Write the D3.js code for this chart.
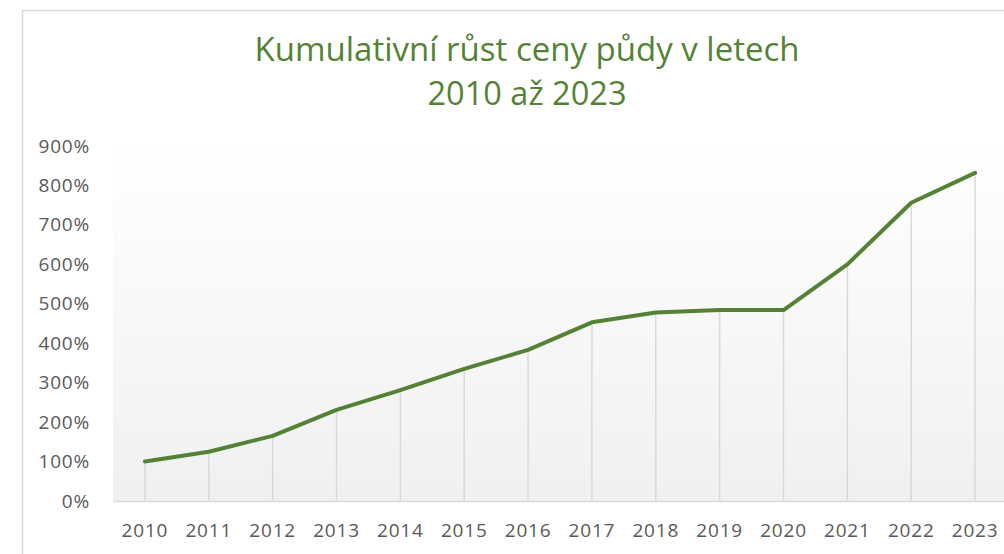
<!DOCTYPE html>
<html>
<head>
<meta charset="utf-8">
<script src="https://cdn.jsdelivr.net/npm/d3@7"></script>
<style>
  html, body { margin: 0; padding: 0; background: #fff; }
  svg { display: block; }
</style>
</head>
<body>
<svg id="chart" width="1004" height="554"></svg>
<script>
const years = ["2010", "2011", "2012", "2013", "2014", "2015", "2016",
  "2017", "2018", "2019", "2020", "2021", "2022", "2023"];
const growth = [100, 125, 165, 231, 281, 335, 383, 453, 478, 484, 484, 600, 756, 832];
const yTicks = [0, 100, 200, 300, 400, 500, 600, 700, 800, 900];
const titleLines = ["Kumulativní růst ceny půdy v letech", "2010 až 2023"];

const svg = d3.select("#chart");
const green = "#548235";
const grid = "#d9d9d9";
const margin = { left: 113, right: -3, top: 146, bottom: 53 };
const width = 1004, height = 554;

// outer chart frame, cut off on right and bottom like in the source
svg.append("rect")
  .attr("x", 22.5).attr("y", 10.5)
  .attr("width", 1000).attr("height", 600)
  .attr("fill", "none").attr("stroke", grid).attr("stroke-width", 1.5);

const x = d3.scaleBand()
  .domain(years)
  .range([margin.left, width - margin.right]);

const y = d3.scaleLinear()
  .domain([0, 900])
  .range([height - margin.bottom, margin.top]);

const defs = svg.append("defs");
const grad = defs.append("linearGradient")
  .attr("id", "bg").attr("x1", 0).attr("y1", 0).attr("x2", 0).attr("y2", 1);
grad.append("stop").attr("offset", "0%").attr("stop-color", "#ffffff");
grad.append("stop").attr("offset", "100%").attr("stop-color", "#f0f0f0");

svg.append("rect")
  .attr("x", margin.left).attr("y", y(900))
  .attr("width", width - margin.right - margin.left)
  .attr("height", y(0) - y(900))
  .attr("fill", "url(#bg)");

const cx = d => x(d) + x.bandwidth() / 2;

// drop lines
svg.append("g")
  .selectAll("line")
  .data(years)
  .join("line")
  .attr("x1", cx).attr("x2", cx)
  .attr("y1", (d, i) => y(growth[i]))
  .attr("y2", y(0))
  .attr("stroke", grid).attr("stroke-width", 1.5);

const labelStyle = g => g
  .attr("fill", "#595959")
  .style("font-family", "'Open Sans', sans-serif")
  .style("font-size", "19px")
  .style("letter-spacing", "0.8px");

// x axis
const xAxis = g => g
  .attr("transform", `translate(0, ${ y(0) })`)
  .call(d3.axisBottom(x).tickSize(0).tickPadding(23))
  .call(g => g.select(".domain").attr("stroke", grid).attr("stroke-width", 1.5))
  .call(g => g.selectAll("text").call(labelStyle));

// y axis
const yAxis = g => g
  .attr("transform", `translate(${ margin.left - 20 }, 0)`)
  .call(d3.axisLeft(y).tickValues(yTicks).tickSize(0).tickFormat(d => d + "%"))
  .call(g => g.select(".domain").remove())
  .call(g => g.selectAll("text").call(labelStyle));

svg.append("g").call(xAxis);
svg.append("g").call(yAxis);

const line = d3.line()
  .x((d, i) => cx(years[i]))
  .y(d => y(d));

svg.append("path")
  .datum(growth)
  .attr("d", line)
  .attr("fill", "none")
  .attr("stroke", green)
  .attr("stroke-width", 4)
  .attr("stroke-linejoin", "round")
  .attr("stroke-linecap", "round");

// title, slightly condensed to mimic the narrower original face
const titleWidths = [545, 199];
svg.append("g")
  .selectAll("text")
  .data(titleLines)
  .join("text")
  .attr("x", 527)
  .attr("y", (d, i) => 61 + i * 44)
  .attr("text-anchor", "middle")
  .attr("fill", green)
  .attr("textLength", (d, i) => titleWidths[i])
  .attr("lengthAdjust", "spacingAndGlyphs")
  .style("font-family", "'Open Sans', sans-serif")
  .style("font-size", "32px")
  .text(d => d);
</script>
</body>
</html>
